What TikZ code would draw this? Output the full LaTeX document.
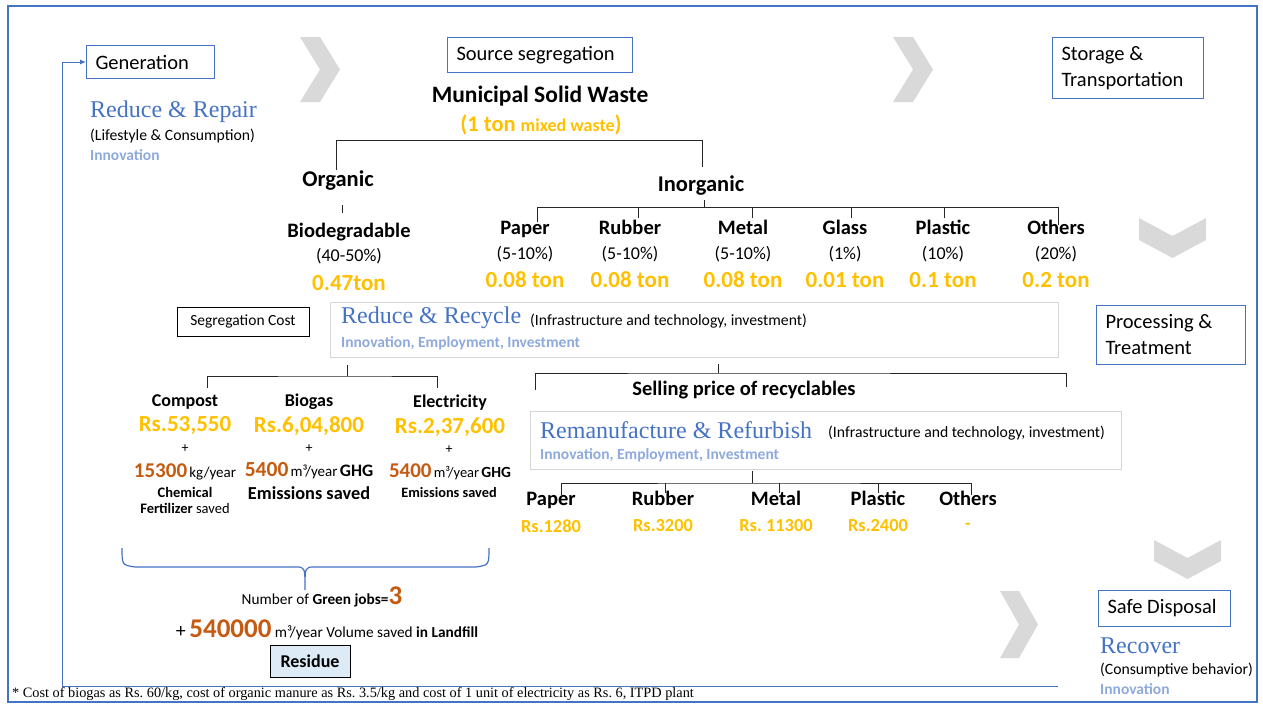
\documentclass[tikz,border=0pt]{standalone}
\usepackage{fontspec}
\setmainfont{Carlito}
\newfontfamily\gara{Liberation Serif}
\usetikzlibrary{arrows.meta}
\frenchspacing

\definecolor{frameblue}{HTML}{4472C4}
\definecolor{gold}{HTML}{FFC000}
\definecolor{rust}{HTML}{C55A11}
\definecolor{paleblue}{HTML}{8EA9DB}
\definecolor{chevgray}{HTML}{D9D9D9}
\definecolor{boxgray}{HTML}{D6D6D6}
\definecolor{residuefill}{HTML}{DDEBF7}

\newcommand{\fsz}[2]{\fontsize{#1}{#2}\selectfont}

\begin{document}
\begin{tikzpicture}[x=1pt,y=-1pt]
  \tikzstyle{stage} = [draw=frameblue, line width=1pt, anchor=north west, inner xsep=9pt, inner ysep=0pt, align=flush left, font=\fsz{20.5}{26}]
  \tikzstyle{brk} = [line width=1pt, black!85]
  \tikzstyle{head} = [font=\bfseries\fsz{20.5}{22}, inner sep=0pt, text height=12pt, text depth=4pt]
  \tikzstyle{prod} = [font=\bfseries\fsz{18}{20}, inner sep=0pt, text height=12pt, text depth=4pt]
  \tikzstyle{pct} = [font=\fsz{18}{20}, inner sep=0pt]
  \tikzstyle{ton} = [font=\bfseries\fsz{23}{25}, text=gold, inner sep=0pt]
  \tikzstyle{txt} = [inner sep=0pt]
  \tikzstyle{rfix} = [font=\gara\fsz{24}{26}, text=frameblue, anchor=west, inner sep=0pt]
  \tikzstyle{aside} = [font=\fsz{15.7}{18}, anchor=west, inner sep=0pt]
  \tikzstyle{gains} = [font=\bfseries\fsz{15.5}{18}, text=paleblue, anchor=west, inner sep=0pt]
  \tikzstyle{panel} = [draw=boxgray, line width=1pt, anchor=north west]
  \tikzstyle{chevron} = [fill=chevgray]

  \useasboundingbox (0,0) rectangle (1263,704);
  \draw[frameblue, line width=1.2pt] (8,6) rectangle (1257,702);

  % chevrons between the stages
  \fill[chevron] (300,37) -- ++(20,0) -- ++(20,32.5) -- ++(-20,32.5) -- ++(-20,0) -- ++(20,-32.5) -- cycle;
  \fill[chevron] (893,37) -- ++(20,0) -- ++(20,32.5) -- ++(-20,32.5) -- ++(-20,0) -- ++(20,-32.5) -- cycle;
  \fill[chevron] (1000,591) -- ++(19,0) -- ++(19,33.5) -- ++(-19,33.5) -- ++(-19,0) -- ++(19,-33.5) -- cycle;
  \fill[chevron] (1139,218) -- ++(33.5,18) -- ++(33.5,-18) -- ++(0,22) -- ++(-33.5,18) -- ++(-33.5,-18) -- cycle;
  \fill[chevron] (1154,540) -- ++(33.5,18) -- ++(33.5,-18) -- ++(0,21) -- ++(-33.5,18) -- ++(-33.5,-18) -- cycle;

  % stages
  \node[stage, text width=110pt, minimum height=33pt] (gen) at (86,45) {Generation};
  \node[stage, text width=167pt, minimum height=35pt] (srcseg) at (447,37) {Source segregation};
  \node[stage, text width=133pt, minimum height=61pt] (storage) at (1052,37) {Storage \&\\Transportation};
  \node[stage, text width=131pt, minimum height=59pt] (proc) at (1096,305) {Processing \&\\Treatment};
  \node[stage, text width=114pt, minimum height=36pt] (safe) at (1098,590) {Safe Disposal};

  \coordinate (loopend) at (1058,686);
  \draw[frameblue, line width=1pt, -{Latex[length=6pt,width=5pt]}] (loopend) -| ([xshift=-24pt]gen.west) -- (gen.west);

  % reduce & repair
  \node[rfix] (repair) at (90,112) {Reduce \& Repair};
  \node[aside] (lifestyle) at (90,136) {(Lifestyle \& Consumption)};
  \node[gains] (innov1) at (90,155) {Innovation};

  % municipal solid waste
  \node[txt, font=\bfseries\fsz{23.5}{26}] (msw) at (540,96) {Municipal Solid Waste};
  \node[txt, font=\bfseries, text=gold] (mswton) at (541,125) {\fsz{22.5}{25}(1 ton {\fsz{18}{20}mixed waste})};

  \node[txt, font=\bfseries\fsz{22.5}{25}, text height=13pt, text depth=4pt] (organic) at (338,182) {Organic};
  \node[txt, font=\bfseries\fsz{22.5}{25}, text height=13pt, text depth=4pt] (inorganic) at (701,187) {Inorganic};
  \coordinate (orgtop) at (336,170);
  \coordinate (inorgtop) at (702,167);
  \draw[brk] (orgtop) -- ++(0,-30) -| (inorgtop);

  \node[head] (biod) at (349,233) {Biodegradable};
  \node[pct] (biodp) at (349,256) {(40-50\%)};
  \node[ton] (biodt) at (349,283) {0.47ton};
  \draw[brk] ([xshift=-7pt,yshift=12pt]biod.north) -- ++(0,-8);

  \foreach \x/\n/\p/\t in {525/Paper/5-10/0.08 ton, 630/Rubber/5-10/0.08 ton, 743/Metal/5-10/0.08 ton,
                          845/Glass/1/0.01 ton, 943/Plastic/10/0.1 ton, 1056/Others/20/0.2 ton} {
    \node[head] (i\n) at (\x,230) {\n};
    \node[pct] (i\n-p) at (\x,254) {(\p\%)};
    \node[ton] (i\n-t) at (\x,280) {\t};
  }
  \coordinate (ibar) at (704,208);
  \draw[brk] ([xshift=12pt]iPaper.north) -- ++(0,-14) -| ([xshift=2pt,yshift=-3pt]iOthers.north);
  \foreach \n/\s in {Rubber/8, Metal/9, Glass/6, Plastic/1}
    \draw[brk] ([xshift=\s pt,yshift=4pt]i\n.north) -- ++(0,-10);
  \draw[brk] (ibar) -- ++(0,-8);

  % reduce & recycle
  \node[draw, line width=1pt, minimum width=132pt, minimum height=29pt, font=\fsz{15.5}{18}] (segcost) at (243,321.5) {Segregation Cost};
  \node[panel, minimum width=728pt, minimum height=55pt] (recycle) at (330,302) {};
  \node[rfix] (recyclet) at (341,318) {Reduce \& Recycle};
  \node[aside] (recyclei) at (530,321) {(Infrastructure and technology, investment)};
  \node[gains] (recycleg) at (341,343) {Innovation, Employment, Investment};

  % organic products
  \node[prod] (compost) at (185,402) {Compost};
  \node[prod] (biogas) at (309,402) {Biogas};
  \node[prod] (elec) at (450,403) {Electricity};
  \coordinate (obar) at (347,376);
  \draw[brk] ([xshift=22pt,yshift=6pt]compost.north) |- (obar) -| ([xshift=-13pt,yshift=7pt]elec.north);
  \draw[brk] (obar) -- ++(0,-11);

  \node[ton] (compostrs) at (185,426) {Rs.53,550};
  \node[ton] (biogasrs) at (309,426) {Rs.6,04,800};
  \node[ton] (elecrs) at (450,427) {Rs.2,37,600};
  \node[txt, font=\fsz{14}{16}] (plus1) at (185,449) {+};
  \node[txt, font=\fsz{14}{16}] (plus2) at (309,449) {+};
  \node[txt, font=\fsz{14}{16}] (plus3) at (449,450) {+};
  \node[txt] (compostg) at (185,472) {{\bfseries\fsz{21}{23}\color{rust}15300} {\fsz{15}{17}kg/year}};
  \node[txt] (biogasg) at (309,471) {{\bfseries\fsz{21.5}{23}\color{rust}5400} {\fsz{15}{17}m³/year} {\bfseries\fsz{17.5}{19}GHG}};
  \node[txt] (elecg) at (450,472) {{\bfseries\fsz{21}{23}\color{rust}5400} {\fsz{14.5}{17}m³/year} {\bfseries\fsz{15.5}{17}GHG}};
  \node[txt, font=\bfseries\fsz{14.5}{16}] (compostc) at (185,492) {Chemical};
  \node[txt, font=\fsz{14.5}{16}] (compostf) at (185,508) {\textbf{Fertilizer} saved};
  \node[txt, font=\bfseries\fsz{18.3}{20}] (biogase) at (309,493) {Emissions saved};
  \node[txt, font=\bfseries\fsz{14.3}{16}] (elece) at (449,493) {Emissions saved};

  % inorganic recyclables
  \node[head] (selling) at (744,391) {Selling price of recyclables};
  \coordinate (sbar) at (718,373);
  \coordinate (sleft) at (535,390);
  \coordinate (sright) at (1066,387);
  \draw[brk] (sleft) |- (sbar) -| (sright);
  \draw[brk] (sbar) -- ++(0,-9);

  \node[panel, minimum width=591pt, minimum height=58pt] (reman) at (530,411) {};
  \node[rfix] (remant) at (540,430) {Remanufacture \& Refurbish};
  \node[aside] (remani) at (828,433) {(Infrastructure and technology, investment)};
  \node[gains] (remang) at (540,455) {Innovation, Employment, Investment};

  \foreach \x/\n/\r in {551/Paper/Rs.1280, 663/Rubber/Rs.3200, 776/Metal/Rs. 11300, 878/Plastic/Rs.2400, 968/Others/-} {
    \node[head] (r\n) at (\x,501) {\n};
    \node[ton, font=\bfseries\fsz{18.4}{20}] (r\n-rs) at (\x,526) {\r};
  }
  \coordinate (rbar) at (752,483);
  \draw[brk] ([xshift=10pt,yshift=-2pt]rPaper.north) |- (rbar) -| ([xshift=3pt,yshift=-2pt]rOthers.north);
  \foreach \n/\s in {Rubber/2, Metal/3, Plastic/0}
    \draw[brk] ([xshift=\s pt]r\n.north) -- ++(0,-10);
  \draw[brk] (rbar) -- ++(0,-12);

  % brace and savings
  \draw[frameblue, line width=1.2pt] (122,548) .. controls (122,565) .. (135,567) -- (296,567)
    .. controls (305,567) .. (305,590) .. controls (305,567) .. (314,567) -- (476,567)
    .. controls (489,565) .. (489,548);
  \node[txt, font=\fsz{15.3}{18}] (jobs) at (322,597) {Number of \textbf{Green jobs=}{\bfseries\fsz{27}{29}\color{rust}3}};
  \node[txt, font=\fsz{15.3}{18}] (landfill) at (327,630) {{\fsz{20}{22}+} {\bfseries\fsz{27}{29}\color{rust}540000} m³/year Volume saved \textbf{in Landfill}};
  \node[draw, line width=1pt, fill=residuefill, minimum width=80pt, minimum height=32pt, font=\bfseries\fsz{18}{20}] (residue) at (310,661.5) {Residue};

  % recover
  \node[rfix] (recover) at (1100,646) {Recover};
  \node[aside] (consume) at (1100,670) {(Consumptive behavior)};
  \node[gains] (innov2) at (1100,689) {Innovation};

  \node[txt, anchor=west, font=\gara\fsz{14.3}{16}] (foot) at (12,694) {* Cost of biogas as Rs. 60/kg, cost of organic manure as Rs. 3.5/kg and cost of 1 unit of electricity as Rs. 6, ITPD plant};
\end{tikzpicture}
\end{document}
